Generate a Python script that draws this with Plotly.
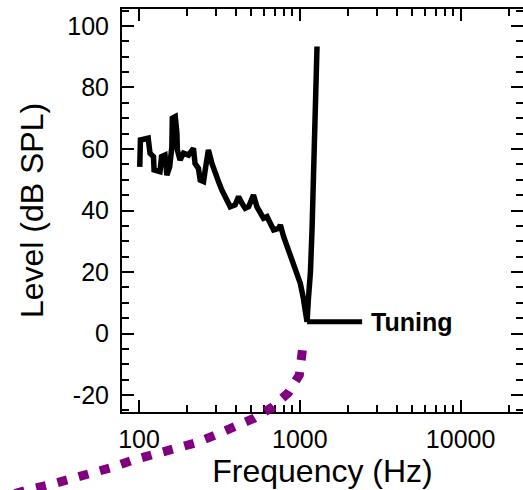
import plotly.graph_objects as go

# Tuning curve (Hz, dB SPL)
freq_hz = [101, 102, 114, 117, 123, 124, 135, 138, 145, 149, 155, 160, 161, 168, 172, 173,
           180, 189, 203, 218, 223, 234, 240, 252, 258, 270, 284, 298, 312, 327, 352, 369,
           396, 416, 437, 457, 480, 515, 541, 568, 594, 625, 655, 687, 738, 757, 793, 832,
           873, 914, 962, 1007, 1047, 1081, 1109, 1130, 1164, 1191, 1219, 1250, 1279]
level_db = [54.2, 62.9, 63.5, 58.6, 57.5, 53.2, 52.6, 57.5, 58.0, 51.5, 54.2, 60.7, 70.0, 70.5, 65.1, 59.7,
            56.4, 58.6, 58.0, 60.2, 55.3, 53.7, 49.9, 49.4, 53.2, 59.7, 55.3, 51.5, 49.4, 46.7, 43.4, 41.2,
            41.8, 44.5, 42.3, 40.7, 41.2, 45.0, 41.2, 39.1, 37.5, 38.0, 35.3, 33.7, 34.2, 35.3, 31.5, 28.2,
            25.0, 21.7, 19.0, 16.3, 12.0, 7.6, 3.8, 11.0, 20.0, 33.7, 53.2, 83.5, 93.3]

# Label pointer line
pointer_hz = [1109, 2440]
pointer_db = [3.8, 3.8]
label_text = "Tuning"
label_db = 3.8

# Purple dotted curve (Hz, dB), extends beyond the axes
purple_hz = [1037, 993, 847, 675, 521, 396, 298, 223, 167, 124, 92, 69, 52, 39, 29, 21, 13.6]
purple_db = [-5.4, -13.5, -19.3, -23.9, -27.5, -30.4, -33.0, -35.6, -37.2, -39.5, -41.1,
             -43.4, -45.4, -47.0, -48.9, -50.6, -53.5]

x_major = [100, 1000, 10000]
x_major_text = ["100", "1000", "10000"]
x_minor = [200, 300, 400, 500, 600, 700, 800, 900,
           2000, 3000, 4000, 5000, 6000, 7000, 8000, 9000, 20000]
y_major = [-20, 0, 20, 40, 60, 80, 100]
y_major_text = ["-20", "0", "20", "40", "60", "80", "100"]
y_minor = [v for v in range(-25, 106, 5) if v % 20 != 0]

W, H = 523, 490
xr = [1.894, 4.388]
yr = [-25.5, 105.5]
xdom = [122 / W, 1.0]
ydom = [78 / H, 481 / H]

# overlay axes covering the whole figure with identical scale
sx = (xr[1] - xr[0]) / (xdom[1] - xdom[0])
xr2 = [xr[0] - sx * xdom[0], xr[1] + sx * (1 - xdom[1])]
sy = (yr[1] - yr[0]) / (ydom[1] - ydom[0])
yr2 = [yr[0] - sy * ydom[0], yr[1] + sy * (1 - ydom[1])]

FONT = "Liberation Sans, Arial, sans-serif"

fig = go.Figure()
fig.add_trace(go.Scatter(x=freq_hz, y=level_db, mode="lines",
                         line=dict(color="black", width=5.5), showlegend=False))
fig.add_trace(go.Scatter(x=pointer_hz, y=pointer_db, mode="lines",
                         line=dict(color="black", width=5), showlegend=False))
fig.add_trace(go.Scatter(x=purple_hz, y=purple_db, mode="lines", xaxis="x2", yaxis="y2",
                         line=dict(color="#800080", width=9, dash="10px,12px"),
                         showlegend=False))

fig.add_annotation(x=3.43, y=label_db, text=label_text, showarrow=False,
                   xanchor="left", yanchor="middle",
                   font=dict(family=FONT, size=25, color="black", weight="bold"))

axis_common = dict(showline=True, linecolor="black", linewidth=2, mirror="ticks",
                   ticks="inside", ticklen=12, tickwidth=1.5, tickcolor="black",
                   showgrid=False, zeroline=False, automargin=False,
                   tickfont=dict(family=FONT, size=25, color="black"))

fig.update_layout(
    width=W, height=H,
    margin=dict(l=0, r=0, t=0, b=0),
    paper_bgcolor="white", plot_bgcolor="rgba(0,0,0,0)",
    xaxis=dict(type="log", range=xr, domain=xdom, anchor="y",
               tickmode="array", tickvals=x_major, ticktext=x_major_text,
               minor=dict(tickmode="array", tickvals=x_minor, ticks="inside",
                          ticklen=7, tickwidth=1.5, tickcolor="black", showgrid=False),
               ticklabelstandoff=4,
               title=dict(text="Frequency (Hz)", standoff=6,
                          font=dict(family=FONT, size=32, color="black")),
               **axis_common),
    yaxis=dict(range=yr, domain=ydom, anchor="x",
               tickmode="array", tickvals=y_major, ticktext=y_major_text,
               minor=dict(tickmode="array", tickvals=y_minor, ticks="inside",
                          ticklen=7, tickwidth=1.5, tickcolor="black", showgrid=False),
               ticklabelstandoff=6,
               title=dict(text="Level (dB SPL)", standoff=14,
                          font=dict(family=FONT, size=32, color="black")),
               **axis_common),
    xaxis2=dict(type="log", range=xr2, domain=[0, 1], anchor="y2", visible=False,
                fixedrange=True),
    yaxis2=dict(range=yr2, domain=[0, 1], anchor="x2", visible=False, fixedrange=True),
)

fig.write_html("out.html")
